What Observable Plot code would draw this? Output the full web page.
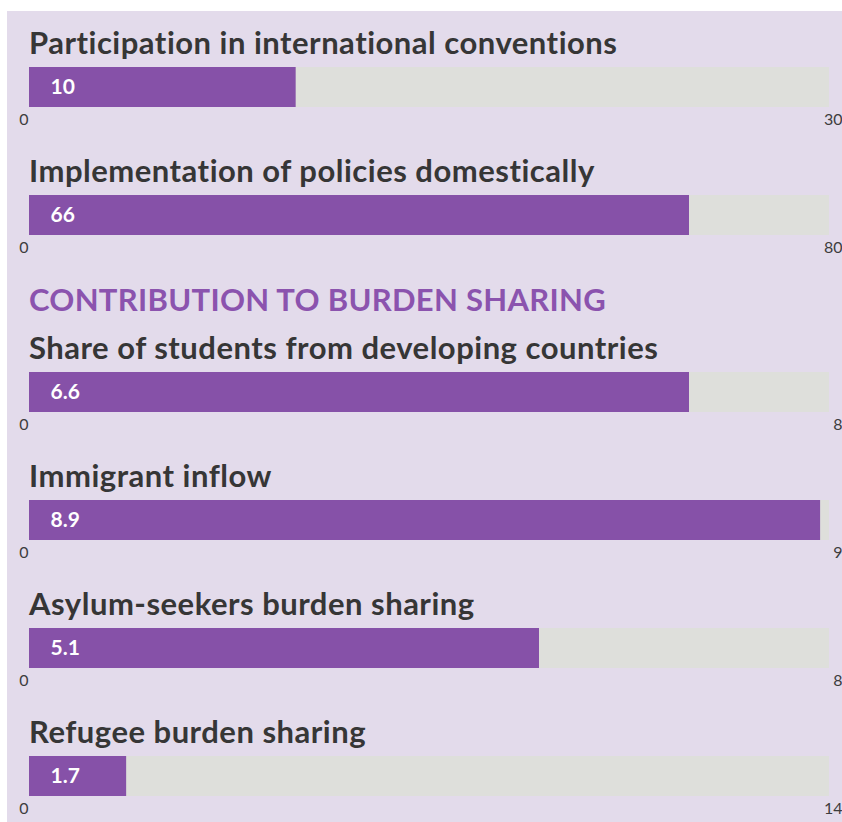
<!DOCTYPE html>
<html>
<head>
<meta charset="utf-8">
<script src="https://cdn.jsdelivr.net/npm/d3@7"></script>
<script src="https://cdn.jsdelivr.net/npm/@observablehq/plot@0.6"></script>
<style>
  html, body { margin: 0; padding: 0; background: #ffffff; }
  body { width: 842px; height: 822px; position: relative; overflow: hidden; font-family: Lato, "Open Sans", sans-serif; }
  #panel { position: absolute; left: 7px; top: 11px; right: 0; bottom: 0; background: #e3dbeb; }
  #content { position: absolute; left: 0; top: 11px; width: 842px; padding-top: 18px; }
  .title { height: 38px; line-height: 26px; font-size: 31px; font-weight: 700; letter-spacing: 0.5px; color: #363636; padding-left: 29px; white-space: nowrap; }
  .section { height: 28px; line-height: 26px; font-size: 31px; font-weight: 700; letter-spacing: 0.3px; color: #8b53ae; padding-left: 29px; margin-top: 29px; margin-bottom: 20px; white-space: nowrap; }
  .block { margin-bottom: 28px; }
  .block svg { display: block; }
</style>
</head>
<body>
<div id="panel"></div>
<div id="content"></div>
<script>
// Data
const labels = [
  "Participation in international conventions",
  "Implementation of policies domestically",
  "Share of students from developing countries",
  "Immigrant inflow",
  "Asylum-seekers burden sharing",
  "Refugee burden sharing"
];
const values = [10, 66, 6.6, 8.9, 5.1, 1.7];
const valueLabels = ["10", "66", "6.6", "8.9", "5.1", "1.7"];
const maxes = [30, 80, 8, 9, 8, 14];
const tickLabels = ["30", "80", "8", "9", "8", "14"];
const sectionTitle = "CONTRIBUTION TO BURDEN SHARING";
const sectionBefore = 2; // section header appears before this indicator index

const barColor = "#8651a8";
const trackColor = "#dedfdb";
const content = document.getElementById("content");

labels.forEach((label, i) => {
  if (i === sectionBefore) {
    const s = document.createElement("div");
    s.className = "section";
    s.textContent = sectionTitle;
    content.appendChild(s);
  }
  const block = document.createElement("div");
  block.className = "block";
  if (i === sectionBefore - 1) block.style.marginBottom = "0px";
  const t = document.createElement("div");
  t.className = "title";
  t.textContent = label;
  block.appendChild(t);

  const row = [{label, value: values[i], max: maxes[i], vlabel: valueLabels[i], tick: tickLabels[i]}];
  const chart = Plot.plot({
    width: 842,
    height: 62,
    marginLeft: 29,
    marginRight: 13,
    marginTop: 0,
    marginBottom: 22,
    style: {background: "transparent", fontFamily: "Lato, sans-serif", overflow: "visible"},
    x: {domain: [0, maxes[i]], axis: null},
    marks: [
      Plot.barX(row, {x1: 0, x2: "max", fill: trackColor}),
      Plot.barX(row, {x1: 0, x2: "value", fill: barColor}),
      Plot.text(row, {x: 0, text: "vlabel", textAnchor: "start", dx: 21, fill: "white", fontSize: 21, fontWeight: 700}),
      Plot.text(row, {x: 0, text: () => "0", frameAnchor: "bottom", textAnchor: "end", lineAnchor: "top", dx: -1, dy: 6, fill: "#3d3d3d", fontSize: 16}),
      Plot.text(row, {x: "max", text: "tick", frameAnchor: "bottom", textAnchor: "end", lineAnchor: "top", dx: 13, dy: 6, fill: "#3d3d3d", fontSize: 16})
    ]
  });
  block.appendChild(chart);
  content.appendChild(block);
});
</script>
</body>
</html>
